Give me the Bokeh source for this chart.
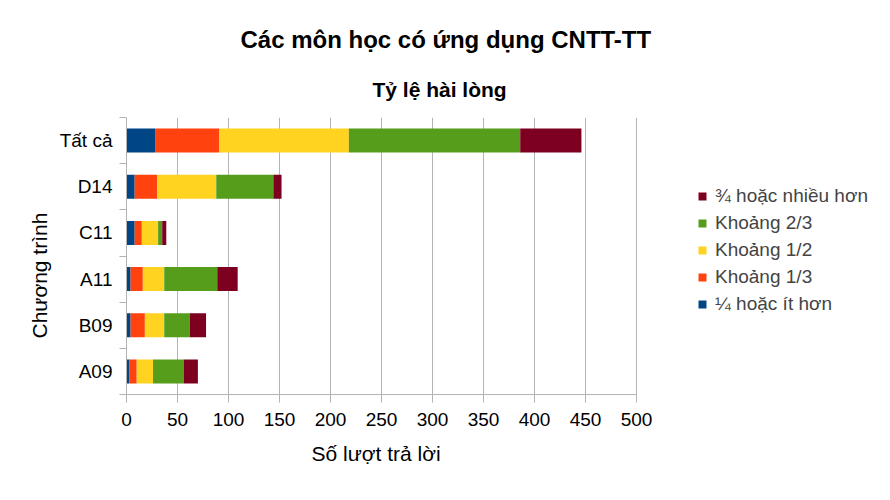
from bokeh.plotting import figure
from bokeh.models import (ColumnDataSource, FactorRange, Range1d, Legend, LegendItem,
                          FixedTicker, Title, LinearAxis, CategoricalAxis)
from bokeh.embed import file_html
from bokeh.resources import INLINE

# ---- data ----
programs = ["Tất cả", "D14", "C11", "A11", "B09", "A09"]
series_names = ["¼ hoặc ít hơn", "Khoảng 1/3", "Khoảng 1/2", "Khoảng 2/3", "¾ hoặc nhiều hơn"]
q_quarter_or_less = [28, 8, 8, 4, 4, 3]
q_one_third = [63, 22, 7, 12, 14, 7]
q_half = [127, 58, 16, 21, 19, 16]
q_two_thirds = [168, 56, 4, 52, 25, 30]
q_three_quarters_or_more = [60, 8, 4, 20, 16, 14]
colors = ["#004586", "#ff420e", "#ffd320", "#579d1c", "#7e0021"]
x_max = 500
x_tick_step = 50

title_text = "Các môn học có ứng dụng CNTT-TT"
subtitle_text = "Tỷ lệ hài lòng"
x_label = "Số lượt trả lời"
y_label = "Chương trình"

FONT = "Liberation Sans"
GRAY = "#b3b3b3"

keys = ["s0", "s1", "s2", "s3", "s4"]
source = ColumnDataSource(dict(
    prog=programs,
    s0=q_quarter_or_less,
    s1=q_one_third,
    s2=q_half,
    s3=q_two_thirds,
    s4=q_three_quarters_or_more,
))

# layout geometry (pixels)
W, H = 874, 484
FL, FT, FB = 126, 117, 394
AXIS_PX = 510            # pixel length of the 0..x_max axis
FR = W                   # frame extends to the right edge (legend lives inside it)
x_end = x_max * (FR - FL) / AXIS_PX

p = figure(width=W, height=H, output_backend="svg", toolbar_location=None,
           y_range=FactorRange(factors=list(reversed(programs)), range_padding=0),
           x_range=Range1d(0, x_end),
           y_axis_location=None,
           min_border_left=FL, min_border_right=W - FR,
           min_border_top=FT, min_border_bottom=H - FB)
p.outline_line_color = None
p.background_fill_color = "white"
p.border_fill_color = "white"

renderers = p.hbar_stack(keys, y="prog", height=0.52, color=colors, source=source,
                         line_color=None)

# x axis
p.xaxis.ticker = FixedTicker(ticks=list(range(0, x_max + 1, x_tick_step)))
p.xaxis.bounds = (0, x_max)
p.xaxis.axis_line_color = GRAY
p.xaxis.major_tick_line_color = GRAY
p.xaxis.major_tick_out = 8
p.xaxis.major_tick_in = 0
p.xaxis.minor_tick_line_color = None
p.xaxis.major_label_text_font = FONT
p.xaxis.major_label_text_font_size = "19px"
p.xaxis.major_label_text_color = "black"
p.xaxis.major_label_standoff = 10

p.xgrid.grid_line_color = GRAY
p.xgrid.bounds = (0, x_max)
p.ygrid.grid_line_color = None

# left: inner axis with ticks at the category boundaries, outer axis with the category names
tick_axis = LinearAxis(ticker=FixedTicker(ticks=list(range(len(programs) + 1))),
                       axis_line_color=GRAY, major_tick_line_color=GRAY,
                       major_tick_out=7, major_tick_in=0, minor_tick_line_color=None,
                       major_label_text_font_size="1px", major_label_text_color=None,
                       major_label_standoff=0)
p.add_layout(tick_axis, "left")
cat_axis = CategoricalAxis(axis_line_color=None, major_tick_line_color=None,
                           major_tick_out=0, major_tick_in=0,
                           major_label_text_font=FONT, major_label_text_font_size="19px",
                           major_label_text_color="black", major_label_standoff=7)
p.add_layout(cat_axis, "left")

# titles (subtitle first = nearest to frame)
p.add_layout(Title(text=subtitle_text, align="left", offset=246, standoff=34,
                   text_font=FONT, text_font_size="21px", text_font_style="bold",
                   text_color="black"), "above")
p.add_layout(Title(text=title_text, align="left", offset=114, standoff=12,
                   text_font=FONT, text_font_size="24px", text_font_style="bold",
                   text_color="black"), "above")
# y-axis label as a left title
p.add_layout(Title(text=y_label, align="left", offset=56, standoff=11,
                   text_font=FONT, text_font_size="21px", text_font_style="normal",
                   text_color="black"), "left")
# x-axis label as a below title
p.add_layout(Title(text=x_label, align="left", offset=185, standoff=25,
                   vertical_align="middle",
                   text_font=FONT, text_font_size="21px", text_font_style="normal",
                   text_color="black"), "below")

items = [LegendItem(label=series_names[i], renderers=[renderers[i]]) for i in range(5)][::-1]
legend = Legend(items=items, location=(571, 79), orientation="vertical",
                glyph_width=10, glyph_height=10, label_height=20, spacing=5,
                label_standoff=8, padding=0, margin=0,
                label_text_font=FONT, label_text_font_size="19px",
                border_line_color=None, background_fill_alpha=0)
p.add_layout(legend, "center")

open("out.html", "w").write(file_html(p, INLINE))
